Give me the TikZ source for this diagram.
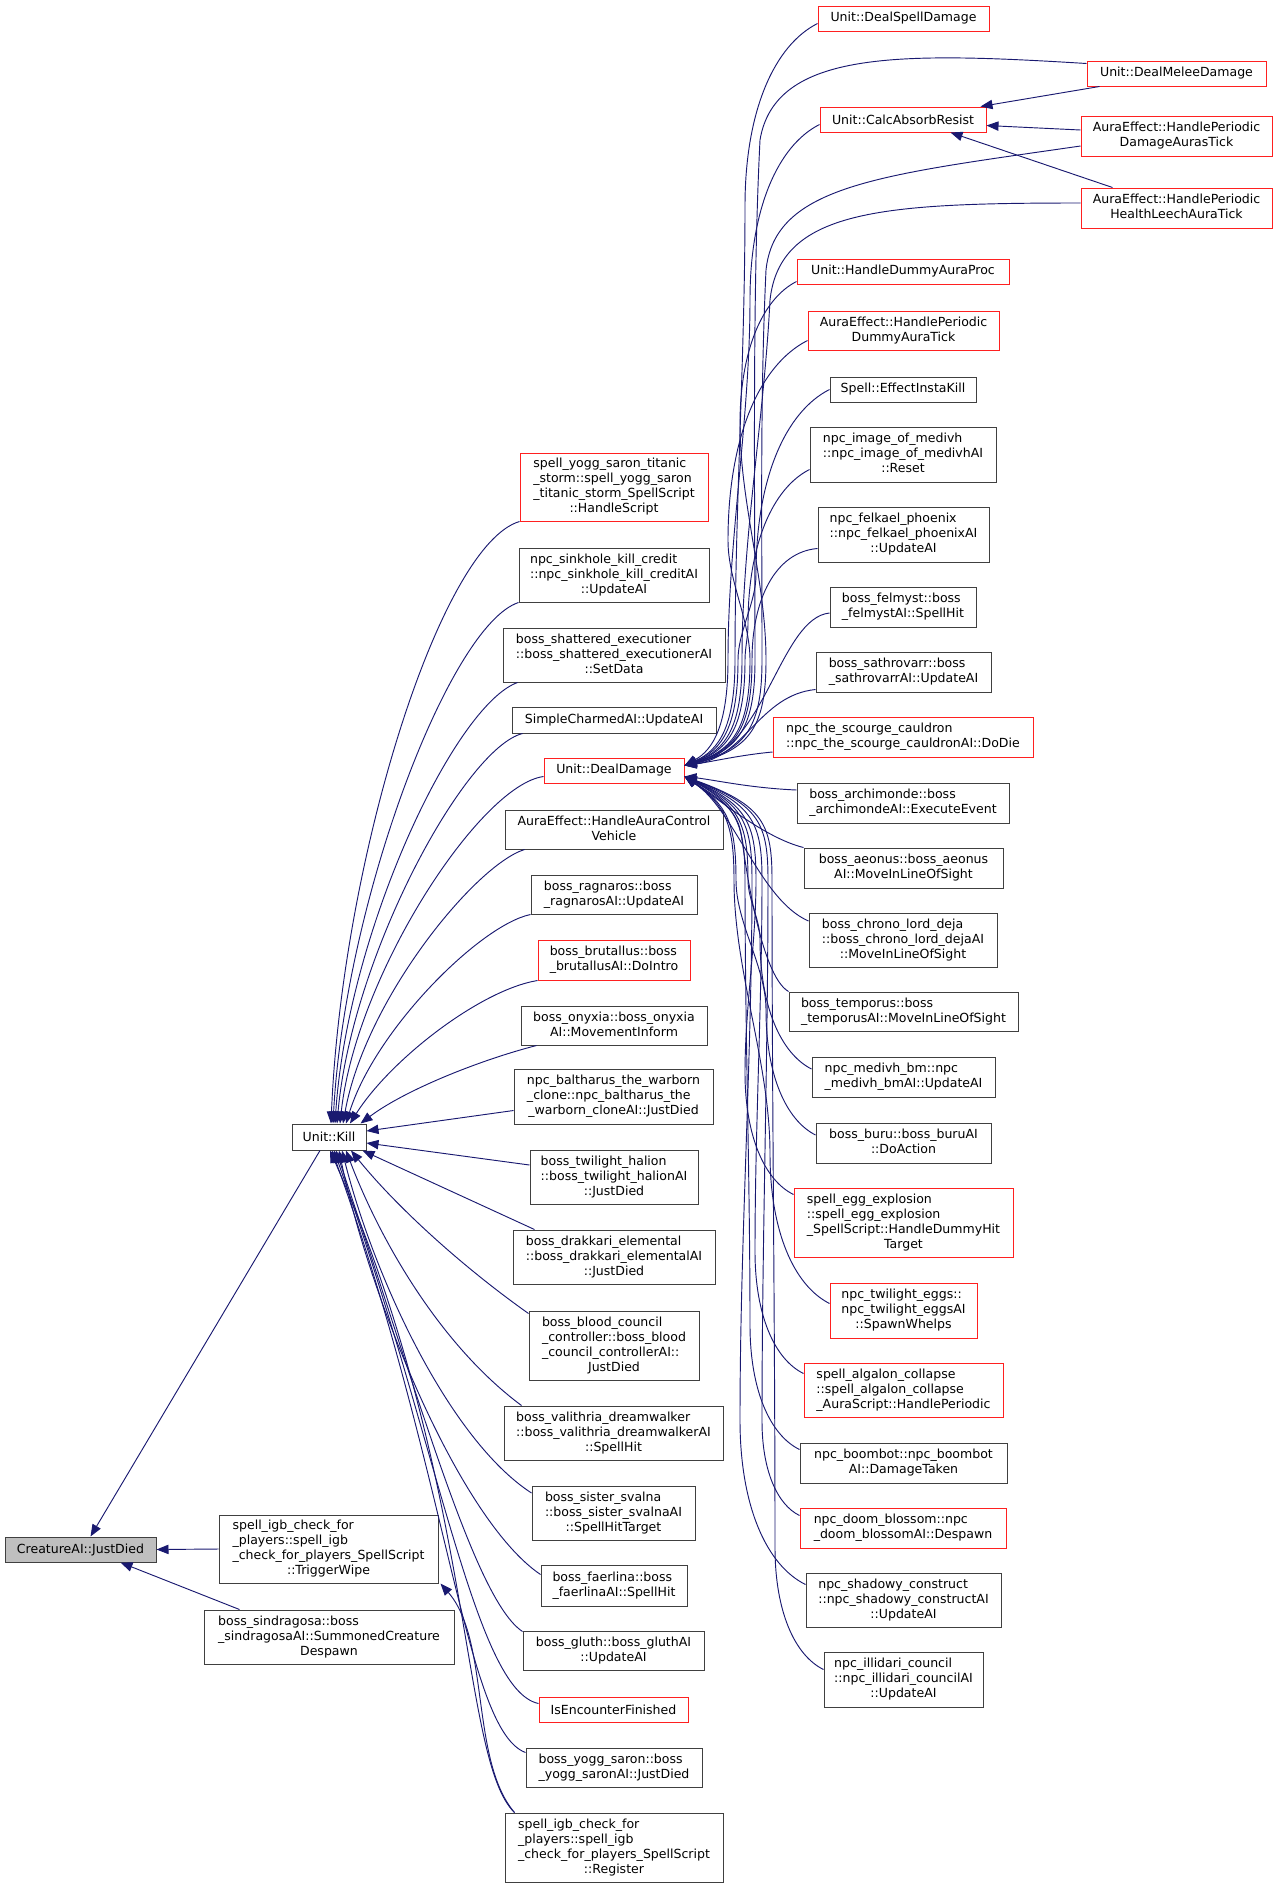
\documentclass[tikz,border=0pt]{standalone}
\usepackage{fontspec}
\usetikzlibrary{arrows.meta,calc}
\newfontfamily\dvs{DejaVu Sans}
\definecolor{mblue}{HTML}{191970}
\definecolor{nred}{HTML}{FF2020}
\definecolor{ngray}{HTML}{BFBFBF}
\definecolor{nbord}{HTML}{404040}
\newcommand\ml[2]{\begin{tabular}{@{}l@{}}#1\\\multicolumn{1}{@{}c@{}}{#2}\end{tabular}}
\newcommand\bx[7]{\node[#1, minimum width={(#5-#3)*0.75pt}, minimum height={(#6-#4)*0.75pt}] (#2) at ({(#3+#5)/2},{(#4+#6)/2}) {#7};}
% upper bundle edge into Unit::DealDamage: #1 start, #2 sx, #3 sy, #4 bx, #5 bx2
\newcommand\upe[5]{%
 \pgfmathsetmacro\myd{#2-#4}%
 \pgfmathsetmacro\myya{#3+2.5*\myd}%
 \pgfmathsetmacro\myca{#2-0.6*\myd}%
 \pgfmathsetmacro\mycb{#3+0.3*\myd}%
 \pgfmathsetmacro\mycc{#3+1.2*\myd}%
 \pgfmathsetmacro\myyb{\myya+(660-\myya)/3}%
 \pgfmathsetmacro\myyc{660-(660-\myya)/3}%
 \pgfmathsetmacro\myxd{#5-15}%
 \draw[edge] #1 .. controls (\myca,\mycb) and (#4,\mycc) .. (#4,\myya) .. controls (#4,\myyb) and (#5,\myyc) .. (#5,660) .. controls (#5,725) and (\myxd,750) .. ($(dd.east)+(0,-5)$);}
% lower bundle edge into Unit::DealDamage
\newcommand\lowe[5]{%
 \pgfmathsetmacro\myd{#2-#4}%
 \pgfmathsetmacro\myya{#3-2.5*\myd}%
 \pgfmathsetmacro\myca{#2-0.6*\myd}%
 \pgfmathsetmacro\mycb{#3-0.3*\myd}%
 \pgfmathsetmacro\mycc{#3-1.2*\myd}%
 \pgfmathsetmacro\myyb{\myya-(\myya-880)/3}%
 \pgfmathsetmacro\myyc{880+(\myya-880)/3}%
 \pgfmathsetmacro\myxd{#5-8}%
 \draw[edge] #1 .. controls (\myca,\mycb) and (#4,\mycc) .. (#4,\myya) .. controls (#4,\myyb) and (#5,\myyc) .. (#5,880) .. controls (#5,825) and (\myxd,805) .. ($(dd.east)+(0,6)$);}
\tikzset{
  base/.style={rectangle, inner sep=0pt, fill=white, line width=0.75pt, font=\dvs\fontsize{9.4pt}{11.25pt}\selectfont},
  nb/.style={base, draw=nbord},
  nr/.style={base, draw=nred},
  ng/.style={base, draw=nbord, fill=ngray},
  edge/.style={draw=mblue, line width=0.7pt, -{Triangle[length=9pt,width=7pt]}}
}
\begin{document}
\begin{tikzpicture}[x=0.75pt,y=-0.75pt]
\useasboundingbox (0,0) rectangle (1277,1889);
% left
\bx{ng}{cai}{5}{1537}{156}{1562}{CreatureAI::JustDied}
\bx{nb}{kill}{292}{1124}{366}{1150}{Unit::Kill}
\bx{nb}{twipe}{219}{1515}{438}{1583}{\ml{spell\_igb\_check\_for\\\_players::spell\_igb\\\_check\_for\_players\_SpellScript}{::TriggerWipe}}
\bx{nb}{sindra}{204}{1610}{454}{1664}{\ml{boss\_sindragosa::boss\\\_sindragosaAI::SummonedCreature}{Despawn}}
% middle
\bx{nr}{yst}{520}{453}{708}{521}{\ml{spell\_yogg\_saron\_titanic\\\_storm::spell\_yogg\_saron\\\_titanic\_storm\_SpellScript}{::HandleScript}}
\bx{nb}{sink}{519}{548}{709}{602}{\ml{npc\_sinkhole\_kill\_credit\\::npc\_sinkhole\_kill\_creditAI}{::UpdateAI}}
\bx{nb}{shat}{503}{628}{725}{682}{\ml{boss\_shattered\_executioner\\::boss\_shattered\_executionerAI}{::SetData}}
\bx{nb}{scai}{512}{707}{716}{733}{SimpleCharmedAI::UpdateAI}
\bx{nr}{dd}{544}{758}{684}{783}{Unit::DealDamage}
\bx{nb}{acv}{505}{810}{723}{849}{\ml{AuraEffect::HandleAuraControl}{Vehicle}}
\bx{nb}{ragn}{531}{875}{697}{914}{\ml{boss\_ragnaros::boss}{\_ragnarosAI::UpdateAI}}
\bx{nr}{brut}{538}{940}{690}{980}{\ml{boss\_brutallus::boss}{\_brutallusAI::DoIntro}}
\bx{nb}{onyx}{521}{1006}{707}{1045}{\ml{boss\_onyxia::boss\_onyxia}{AI::MovementInform}}
\bx{nb}{balt}{514}{1069}{713}{1124}{\ml{npc\_baltharus\_the\_warborn\\\_clone::npc\_baltharus\_the}{\_warborn\_cloneAI::JustDied}}
\bx{nb}{halion}{530}{1150}{698}{1204}{\ml{boss\_twilight\_halion\\::boss\_twilight\_halionAI}{::JustDied}}
\bx{nb}{drak}{513}{1230}{715}{1284}{\ml{boss\_drakkari\_elemental\\::boss\_drakkari\_elementalAI}{::JustDied}}
\bx{nb}{blood}{529}{1311}{699}{1380}{\ml{boss\_blood\_council\\\_controller::boss\_blood\\\_council\_controllerAI::}{JustDied}}
\bx{nb}{vali}{504}{1406}{723}{1460}{\ml{boss\_valithria\_dreamwalker\\::boss\_valithria\_dreamwalkerAI}{::SpellHit}}
\bx{nb}{sval}{532}{1486}{695}{1540}{\ml{boss\_sister\_svalna\\::boss\_sister\_svalnaAI}{::SpellHitTarget}}
\bx{nb}{faer}{541}{1565}{687}{1606}{\ml{boss\_faerlina::boss}{\_faerlinaAI::SpellHit}}
\bx{nb}{gluth}{523}{1631}{704}{1670}{\ml{boss\_gluth::boss\_gluthAI}{::UpdateAI}}
\bx{nr}{isenc}{539}{1697}{688}{1722}{IsEncounterFinished}
\bx{nb}{yogg}{526}{1748}{702}{1787}{\ml{boss\_yogg\_saron::boss}{\_yogg\_saronAI::JustDied}}
\bx{nb}{reg}{505}{1813}{723}{1882}{\ml{spell\_igb\_check\_for\\\_players::spell\_igb\\\_check\_for\_players\_SpellScript}{::Register}}
% right
\bx{nr}{dsd}{818}{6}{989}{31}{Unit::DealSpellDamage}
\bx{nr}{dmd}{1087}{61}{1266}{86}{Unit::DealMeleeDamage}
\bx{nr}{car}{820}{107}{986}{132}{Unit::CalcAbsorbResist}
\bx{nr}{dat}{1081}{116}{1272}{156}{\ml{AuraEffect::HandlePeriodic}{DamageAurasTick}}
\bx{nr}{hlt}{1081}{188}{1272}{228}{\ml{AuraEffect::HandlePeriodic}{HealthLeechAuraTick}}
\bx{nr}{hdap}{797}{259}{1009}{284}{Unit::HandleDummyAuraProc}
\bx{nr}{pdat}{808}{311}{999}{350}{\ml{AuraEffect::HandlePeriodic}{DummyAuraTick}}
\bx{nb}{eik}{830}{377}{976}{402}{Spell::EffectInstaKill}
\bx{nb}{iom}{810}{427}{996}{482}{\ml{npc\_image\_of\_medivh\\::npc\_image\_of\_medivhAI}{::Reset}}
\bx{nb}{felk}{818}{507}{989}{562}{\ml{npc\_felkael\_phoenix\\::npc\_felkael\_phoenixAI}{::UpdateAI}}
\bx{nb}{felm}{830}{587}{976}{627}{\ml{boss\_felmyst::boss}{\_felmystAI::SpellHit}}
\bx{nb}{sath}{816}{652}{991}{692}{\ml{boss\_sathrovarr::boss}{\_sathrovarrAI::UpdateAI}}
\bx{nr}{scour}{773}{717}{1033}{757}{\ml{npc\_the\_scourge\_cauldron}{::npc\_the\_scourge\_cauldronAI::DoDie}}
\bx{nb}{archi}{797}{783}{1009}{823}{\ml{boss\_archimonde::boss}{\_archimondeAI::ExecuteEvent}}
\bx{nb}{aeon}{804}{848}{1003}{888}{\ml{boss\_aeonus::boss\_aeonus}{AI::MoveInLineOfSight}}
\bx{nb}{chrono}{809}{913}{997}{967}{\ml{boss\_chrono\_lord\_deja\\::boss\_chrono\_lord\_dejaAI}{::MoveInLineOfSight}}
\bx{nb}{temp}{789}{992}{1018}{1031}{\ml{boss\_temporus::boss}{\_temporusAI::MoveInLineOfSight}}
\bx{nb}{mbm}{812}{1057}{995}{1097}{\ml{npc\_medivh\_bm::npc}{\_medivh\_bmAI::UpdateAI}}
\bx{nb}{buru}{816}{1123}{991}{1163}{\ml{boss\_buru::boss\_buruAI}{::DoAction}}
\bx{nr}{egg}{794}{1188}{1013}{1257}{\ml{spell\_egg\_explosion\\::spell\_egg\_explosion\\\_SpellScript::HandleDummyHit}{Target}}
\bx{nr}{teggs}{830}{1283}{977}{1338}{\ml{npc\_twilight\_eggs::\\npc\_twilight\_eggsAI}{::SpawnWhelps}}
\bx{nr}{alga}{804}{1363}{1003}{1417}{\ml{spell\_algalon\_collapse\\::spell\_algalon\_collapse}{\_AuraScript::HandlePeriodic}}
\bx{nb}{boom}{800}{1443}{1007}{1483}{\ml{npc\_boombot::npc\_boombot}{AI::DamageTaken}}
\bx{nr}{doom}{800}{1508}{1006}{1548}{\ml{npc\_doom\_blossom::npc}{\_doom\_blossomAI::Despawn}}
\bx{nb}{shad}{806}{1573}{1001}{1627}{\ml{npc\_shadowy\_construct\\::npc\_shadowy\_constructAI}{::UpdateAI}}
\bx{nb}{illi}{824}{1652}{983}{1707}{\ml{npc\_illidari\_council\\::npc\_illidari\_councilAI}{::UpdateAI}}
% ---- edges into Unit::DealDamage (upper)
\upe{($(dsd.west)+(0,5)$)}{818}{23.5}{745}{735}
\draw[edge] ($(dmd.north west)+(0,3)$) .. controls (900,52) and (775,50) .. (760,140) .. controls (752,300) and (755,500) .. (755,660) .. controls (755,725) and (740,750) .. ($(dd.east)+(0,-5)$);
\upe{($(car.west)+(0,5)$)}{820}{124.5}{750}{728}
\draw[edge] ($(dat.west)+(0,10)$) .. controls (880,175) and (775,185) .. (766,270) .. controls (760,400) and (762,520) .. (762,660) .. controls (762,725) and (747,750) .. ($(dd.east)+(0,-5)$);
\draw[edge] ($(hlt.west)+(0,-5)$) .. controls (880,203) and (780,210) .. (770,300) .. controls (764,420) and (742,540) .. (742,660) .. controls (742,725) and (727,750) .. ($(dd.east)+(0,-5)$);
\upe{($(hdap.west)+(0,10)$)}{797}{281.5}{740}{766}
\upe{($(pdat.west)+(0,10)$)}{808}{340.5}{728}{750}
\upe{(eik.west)}{830}{389.5}{756}{738}
\upe{($(iom.west)+(0,15)$)}{810}{469.5}{748}{745}
\draw[edge] ($(felk.west)+(0,14)$) .. controls (775,552) and (752,600) .. (752,660) .. controls (752,725) and (737,750) .. ($(dd.east)+(0,-5)$);
\draw[edge] ($(felm.west)+(0,6)$) .. controls (780,618) and (765,750) .. ($(dd.east)+(0,-5)$);
\draw[edge] ($(sath.south west)+(0,-3)$) .. controls (760,695) and (745,757) .. ($(dd.east)+(0,-5)$);
\draw[edge] ($(scour.west)+(0,15)$) .. controls (740,755) and (710,762) .. ($(dd.east)+(0,-5)$);
% ---- edges into Unit::DealDamage (lower)
\draw[edge] ($(archi.west)+(0,-13)$) .. controls (750,788) and (715,780) .. ($(dd.east)+(0,6)$);
\draw[edge] (aeon.north west) .. controls (765,838) and (720,800) .. ($(dd.east)+(0,6)$);
\draw[edge] ($(chrono.west)+(0,-19)$) .. controls (760,900) and (735,810) .. ($(dd.east)+(0,6)$);
\draw[edge] (temp.north west) .. controls (760,975) and (745,860) .. (742,840) .. controls (739,815) and (730,805) .. ($(dd.east)+(0,6)$);
\lowe{($(mbm.west)+(0,-8)$)}{812}{1069}{760}{748}
\lowe{($(buru.west)+(0,-8)$)}{816}{1135}{766}{736}
\lowe{($(egg.north west)+(0,7)$)}{794}{1195}{745}{756}
\lowe{($(teggs.west)+(0,-7)$)}{830}{1303.5}{770}{734}
\lowe{($(alga.north west)+(0,11)$)}{804}{1374}{755}{762}
\lowe{($(boom.north west)+(0,7)$)}{800}{1450}{750}{745}
\lowe{($(doom.north west)+(0,8)$)}{800}{1516}{762}{768}
\lowe{($(shad.north west)+(0,12)$)}{806}{1585}{740}{752}
\lowe{($(illi.north west)+(0,18)$)}{824}{1670}{775}{772}
% ---- edges into Unit::CalcAbsorbResist
\draw[edge] ($(dmd.south west)+(13,0)$) -- ($(car.north east)+(-6,0)$);
\draw[edge] ($(dat.west)+(0,-6)$) -- ($(car.east)+(0,6)$);
\draw[edge] ($(hlt.north west)+(32,0)$) -- ($(car.south east)+(-36,0)$);
% ---- edges into Unit::Kill (upper)
\draw[edge] (yst.south west) .. controls (440,545) and (342,860) .. ($(kill.north)+(2,0)$);
\draw[edge] (sink.south west) .. controls (450,625) and (345,900) .. ($(kill.north)+(4,0)$);
\draw[edge] ($(shat.south west)+(15,0)$) .. controls (455,705) and (348,930) .. ($(kill.north)+(6,0)$);
\draw[edge] ($(scai.south west)+(11,0)$) .. controls (465,748) and (352,955) .. ($(kill.north)+(8,0)$);
\draw[edge] ($(dd.west)+(0,6)$) .. controls (480,785) and (356,975) .. ($(kill.north)+(11,0)$);
\draw[edge] ($(acv.south west)+(20,0)$) .. controls (475,865) and (365,1000) .. ($(kill.north)+(14,0)$);
\draw[edge] (ragn.south west) .. controls (480,925) and (375,1030) .. ($(kill.north)+(17,0)$);
\draw[edge] (brut.south west) .. controls (480,990) and (390,1060) .. ($(kill.north)+(21,0)$);
\draw[edge] ($(onyx.south west)+(16,0)$) .. controls (480,1060) and (405,1090) .. ($(kill.north east)+(-6,0)$);
\draw[edge] ($(balt.west)+(0,14)$) -- ($(kill.east)+(0,-6)$);
\draw[edge] ($(halion.west)+(0,-12)$) -- ($(kill.east)+(0,6)$);
\draw[edge] ($(drak.north west)+(22,0)$) -- ($(kill.south east)+(-4,0)$);
% ---- edges into Unit::Kill (lower)
\draw[edge] ($(blood.north west)+(0,3)$) .. controls (460,1265) and (395,1205) .. ($(kill.south)+(22,0)$);
\draw[edge] ($(vali.north west)+(18,0)$) .. controls (440,1345) and (380,1240) .. ($(kill.south)+(17,0)$);
\draw[edge] ($(sval.west)+(0,-20)$) .. controls (450,1440) and (375,1280) .. ($(kill.south)+(13,0)$);
\draw[edge] ($(faer.west)+(0,-11)$) .. controls (460,1520) and (370,1300) .. ($(kill.south)+(10,0)$);
\draw[edge] ($(gluth.north west)+(0,1)$) .. controls (475,1600) and (420,1400) .. ($(kill.south)+(7,0)$);
\draw[edge] ($(isenc.west)+(0,-6)$) .. controls (475,1690) and (440,1450) .. ($(kill.south)+(5,0)$);
\draw[edge] ($(yogg.west)+(0,-15)$) .. controls (465,1730) and (450,1480) .. ($(kill.south)+(3,0)$);
\draw[edge] ($(reg.north west)+(10,0)$) .. controls (460,1760) and (475,1480) .. ($(kill.south)+(1,0)$);
% ---- edges into spell_igb TriggerWipe and CreatureAI::JustDied
\draw[edge] ($(reg.north west)+(10,0)$) .. controls (470,1760) and (490,1640) .. ($(twipe.south east)+(2,0)$);
\draw[edge] ($(kill.south)+(-9,0)$) -- ($(cai.north)+(10,0)$);
\draw[edge] (twipe.west) -- (cai.east);
\draw[edge] ($(sindra.north west)+(36,0)$) -- ($(cai.south)+(40,0)$);
\end{tikzpicture}
\end{document}
